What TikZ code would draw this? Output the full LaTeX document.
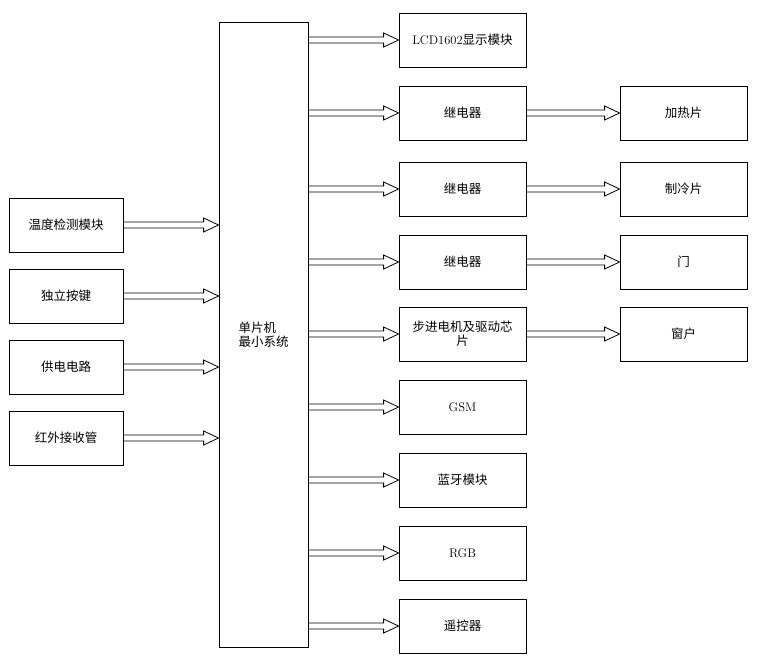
\documentclass[tikz,border=0pt]{standalone}
\usepackage{fontspec}
\newfontfamily\cjk{Noto Sans CJK SC}
\usetikzlibrary{calc,positioning}
\tikzset{
  box/.style={draw, line width=0.8pt, minimum width=127pt, minimum height=54pt, font=\cjk\fontsize{12.5}{14}\selectfont, align=center, inner sep=1pt},
  sbox/.style={box, minimum width=114pt},
}
% hollow block arrow from #1 to #2
\newcommand\hollowarrow[2]{%
  \path (#1) coordinate (ha) (#2) coordinate (hb);
  \draw[line width=0.8pt] let \p1=(ha), \p2=(hb) in
    (\x1,\y1+3pt) -- (\x2-15pt,\y1+3pt) -- (\x2-15pt,\y1+7pt) -- (\x2,\y1)
    -- (\x2-15pt,\y1-7pt) -- (\x2-15pt,\y1-3pt) -- (\x1,\y1-3pt) -- cycle;}
\begin{document}
\begin{tikzpicture}[x=1pt, y=-1pt]
  \useasboundingbox (0,0) rectangle (760,662);

  \node[box, minimum width=89pt, minimum height=625pt, align=left] (mcu) at (263.5,334.5) {单片机\\最小系统};

  \node[sbox] (temp) at (66,225) {温度检测模块};
  \node[sbox] (key)  at (66,296) {独立按键};
  \node[sbox] (pwr)  at (66,367) {供电电路};
  \node[sbox] (ir)   at (66,438) {红外接收管};

  \node[box] (lcd)    at (462.5,40)  {\textrm{LCD1602}显示模块};
  \node[box] (relA)   at (462.5,113) {继电器};
  \node[box] (relB)   at (462.5,189) {继电器};
  \node[box] (relC)   at (462.5,262) {继电器};
  \node[box] (step)   at (462.5,334) {步进电机及驱动芯\\片};
  \node[box] (gsm)    at (462.5,407) {\textrm{GSM}};
  \node[box] (bt)     at (462.5,480) {蓝牙模块};
  \node[box] (rgb)    at (462.5,553) {\textrm{RGB}};
  \node[box] (remote) at (462.5,626) {遥控器};

  \node[box] (heat) at (683.5,113) {加热片};
  \node[box] (cool) at (683.5,189) {制冷片};
  \node[box] (door) at (683.5,262) {门};
  \node[box] (win)  at (683.5,334) {窗户};

  \foreach \n in {temp,key,pwr,ir}
    \hollowarrow{\n.east}{mcu.west |- \n.east};
  \foreach \n in {lcd,relA,relB,relC,step,gsm,bt,rgb,remote}
    \hollowarrow{mcu.east |- \n.west}{\n.west};
  \hollowarrow{relA.east}{heat.west}
  \hollowarrow{relB.east}{cool.west}
  \hollowarrow{relC.east}{door.west}
  \hollowarrow{step.east}{win.west}
\end{tikzpicture}
\end{document}
